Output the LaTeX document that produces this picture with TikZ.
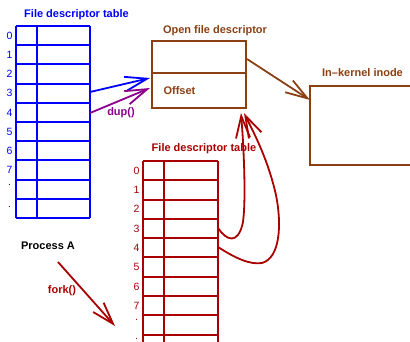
\documentclass[tikz,border=0pt]{standalone}
\usepackage{fontspec}
\setmainfont{Liberation Sans}
\usetikzlibrary{arrows.meta}
\definecolor{fdblue}{RGB}{0,0,255}
\definecolor{fdbrown}{RGB}{139,64,20}
\definecolor{fdred}{RGB}{170,0,0}
\definecolor{fdpurple}{RGB}{140,0,140}
\begin{document}
\begin{tikzpicture}[x=1pt,y=-1pt, line width=1.8pt,
 title/.style={font=\bfseries\fontsize{11}{12}\selectfont, inner sep=0pt},
 idx/.style={font=\fontsize{10.5}{12}\selectfont, inner sep=0pt},
 barb/.style={-{Straight Barb[length=22pt,width=14pt,line width=1.8pt]}},
]
\useasboundingbox (0,0) rectangle (410,341);
\clip (0,0) rectangle (410,341);

% blue table
\foreach \y in {26,45,64,84,103,122,141,160,180,199,218} \draw[fdblue] (16,\y) -- (90,\y);
\draw[fdblue] (16,26) -- (16,218) (37,26) -- (37,218) (90,26) -- (90,218);
\foreach \l [count=\i from 0] in {0,...,7}
  \node[idx,text=fdblue] (bl\i) at (9.5,{26+19.2*(\i+0.5)}) {\l};
\node[idx,text=fdblue] (bl8) at (9.5,185) {.};
\node[idx,text=fdblue] (bl9) at (9.5,207) {.};
\node[title,text=fdblue] (btitle) at (76.5,14.5) {File descriptor table};
\coordinate (b3) at (90,92);
\coordinate (b4) at (90,113);

% open file descriptor
\draw[fdbrown] (152,41) rectangle (246,108);
\draw[fdbrown] (152,73) -- (246,73);
\node[title,text=fdbrown] (otitle) at (215,31) {Open file descriptor};
\node[title,text=fdbrown] (off) at (179.5,91) {Offset};
\coordinate (oin1) at (150,78);
\coordinate (oin2) at (150,88);
\coordinate (oout) at (247,59);
\coordinate (obot1) at (241,113);
\coordinate (obot2) at (244,113);

% inode
\draw[fdbrown] (415,86) -- (310,86) -- (310,165) -- (415,165);
\node[title,text=fdbrown] (ititle) at (362.5,73) {In--kernel inode};
\coordinate (iin) at (310,100);

% red table
\foreach \y in {161,180,200,219,238,257,277,296,315,335,354} \draw[fdred] (143,\y) -- (218,\y);
\draw[fdred] (143,161) -- (143,345) (164,161) -- (164,345) (218,161) -- (218,345);
\foreach \l [count=\i from 0] in {0,...,7}
  \node[idx,text=fdred] (rl\i) at (136.5,{161+19.3*(\i+0.5)}) {\l};
\node[idx,text=fdred] (rl8) at (136.5,320) {.};
\node[idx,text=fdred] (rl9) at (136.5,338.5) {.};
\node[title,text=fdred] (rtitle) at (204,149) {File descriptor table};
\coordinate (r3) at (218,228);
\coordinate (r4) at (218,247);

% process A / fork
\node[title] (proc) at (48,246) {Process A};
\node[title,text=fdred] (fork) at (62,291) {fork()};
\coordinate (fs) at (58,262);
\coordinate (fe) at (115,326);

% arrows
\draw[fdblue,barb] (b3) -- (oin1);
\draw[fdpurple,barb] (b4) -- (oin2);
\node[title,text=fdpurple] (dup) at (121,113) {dup()};
\draw[fdbrown,barb] (oout) -- (iin);
\draw[fdred,barb] (r3) .. controls (226,240) and (238,246) .. (243,222)
   .. controls (246,200) and (244,150) .. (obot1);
\draw[fdred,barb] (r4) .. controls (235,258) and (250,265) .. (262,263)
   .. controls (280,258) and (282,225) .. (276,195)
   .. controls (268,160) and (255,135) .. (obot2);
\draw[fdred,barb] (fs) -- (fe);
\end{tikzpicture}
\end{document}
